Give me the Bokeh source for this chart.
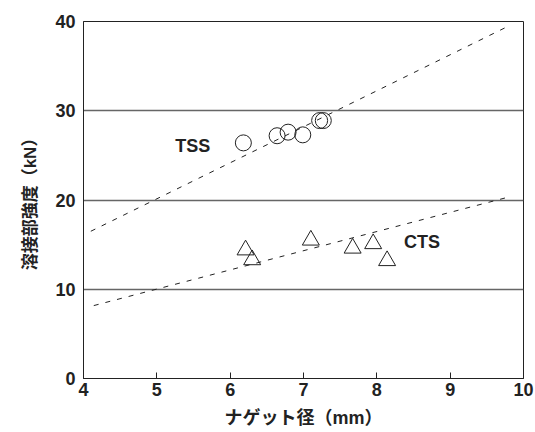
from bokeh.plotting import figure
from bokeh.models import Range1d, FixedTicker, Label
from bokeh.embed import file_html
from bokeh.resources import INLINE

# --- data ---
tss_x = [6.18, 6.64, 6.79, 6.99, 7.22, 7.27]
tss_y = [26.4, 27.2, 27.6, 27.3, 28.9, 28.9]
cts_x = [6.21, 6.30, 7.10, 7.67, 7.95, 8.14]
cts_y = [14.4, 13.3, 15.5, 14.6, 15.1, 13.2]
tss_fit_x = [4.1, 9.75]
tss_fit_y = [16.5, 39.3]
cts_fit_x = [4.14, 9.83]
cts_fit_y = [8.17, 20.4]
x_ticks = [4, 5, 6, 7, 8, 9, 10]
y_ticks = [0, 10, 20, 30, 40]
x_label = "ナゲット径（mm）"
y_label = "溶接部強度（kN）"

FONT = "'Liberation Sans', 'Noto Sans CJK JP'"
INK = "#222222"

p = figure(width=535, height=432, output_backend="svg", toolbar_location=None,
           x_range=Range1d(4, 10), y_range=Range1d(0, 40),
           min_border_left=83, min_border_right=12, min_border_top=21, min_border_bottom=54)

p.outline_line_color = INK
p.outline_line_width = 1
p.xgrid.grid_line_color = None
p.ygrid.grid_line_color = "#666666"
p.ygrid.grid_line_width = 1.5
p.ygrid.ticker = FixedTicker(ticks=[10, 20, 30])

p.xaxis.ticker = FixedTicker(ticks=x_ticks)
p.yaxis.ticker = FixedTicker(ticks=y_ticks)
for ax in (p.xaxis, p.yaxis):
    ax.axis_line_color = INK
    ax.major_label_text_font = FONT
    ax.major_label_text_font_style = "bold"
    ax.major_label_text_font_size = "18px"
    ax.major_label_text_color = INK
    ax.axis_label_text_font = FONT
    ax.axis_label_text_font_style = "bold"
    ax.axis_label_text_font_size = "17px"
    ax.axis_label_text_color = INK
    ax.minor_tick_line_color = None
p.xaxis.major_tick_in = 6
p.xaxis.major_tick_out = 0
p.xaxis.major_tick_line_color = INK
p.xaxis.major_label_standoff = 4
p.xaxis.axis_label = x_label
p.xaxis.axis_label_text_font_size = "18px"
p.xaxis.axis_label_standoff = 9
p.yaxis.major_tick_in = 0
p.yaxis.major_tick_out = 0
p.yaxis.major_label_standoff = 8
p.yaxis.axis_label = y_label
p.yaxis.axis_label_standoff = 12

p.line(tss_fit_x, tss_fit_y, line_color=INK, line_width=1, line_dash="5 7")
p.line(cts_fit_x, cts_fit_y, line_color=INK, line_width=1, line_dash="5 7")

p.scatter(tss_x, tss_y, marker="circle", size=16, fill_color=None,
          line_color=INK, line_width=1)
p.scatter(cts_x, cts_y, marker="triangle", size=17, fill_color=None,
          line_color=INK, line_width=1)

for txt, lx, ly in (("TSS", 5.25, 26.0), ("CTS", 8.37, 15.35)):
    p.add_layout(Label(x=lx, y=ly, text=txt, text_font=FONT, text_font_style="bold",
                       text_font_size="18px", text_color=INK,
                       text_align="left", text_baseline="middle"))

open("out.html", "w").write(file_html(p, INLINE))
